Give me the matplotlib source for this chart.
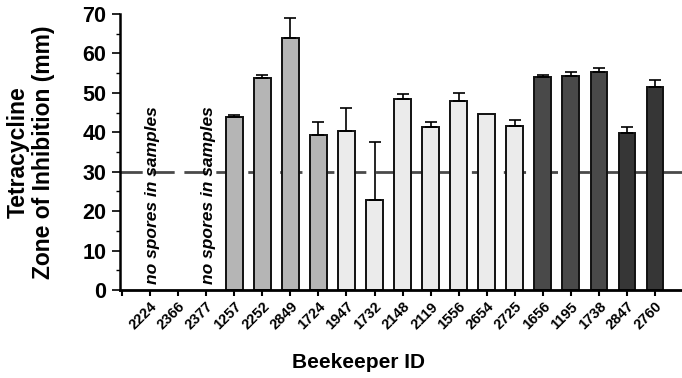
import matplotlib
matplotlib.use('Agg')
import matplotlib.pyplot as plt
from matplotlib.ticker import MultipleLocator

plt.rcParams['font.family'] = 'Liberation Sans'
plt.rcParams['font.weight'] = 'bold'

# beekeeper IDs in plotted order; the first three had no spores
beekeeper_ids = ['2224', '2366', '2377', '1257', '2252', '2849', '1724',
                 '1947', '1732', '2148', '2119', '1556', '2654', '2725',
                 '1656', '1195', '1738', '2847', '2760']
zone_mm = [None, None, None, 43.8, 53.8, 63.8, 39.4,
           40.4, 22.9, 48.4, 41.4, 48.0, 44.6, 41.7,
           54.0, 54.3, 55.3, 39.9, 51.6]
zone_err = [0, 0, 0, 0.6, 0.8, 5.3, 3.3,
            5.8, 14.5, 1.4, 1.3, 2.0, 0.0, 1.5,
            0.6, 0.9, 1.1, 1.5, 1.6]
group = [0, 0, 0, 1, 1, 1, 1,
         2, 2, 2, 2, 2, 2, 2,
         3, 3, 3, 4, 4]
group_colors = {1: '#b5b5b5', 2: '#ebebeb', 3: '#494949', 4: '#363636'}
no_spores = [0, 2]
threshold = 30

fig = plt.figure(figsize=(6.82, 3.78), dpi=100)
ax = fig.add_axes([0.176, 0.233, 0.824, 0.730])

xs = [i for i, v in enumerate(zone_mm) if v is not None]
heights = [zone_mm[i] for i in xs]
errs = [zone_err[i] for i in xs]
colors = [group_colors[group[i]] for i in xs]

ax.axhline(threshold, color='#4a4a4a', lw=2, dashes=(8, 3.5), zorder=1)
ax.bar(xs, heights, width=0.6, color=colors, edgecolor='#111111',
       linewidth=1.4, zorder=2)
for x, h, e in zip(xs, heights, errs):
    if e > 0:
        ax.errorbar(x, h, yerr=[[0], [e]], fmt='none', ecolor='black',
                    elinewidth=1.2, capsize=4.5, capthick=1.2, zorder=3)

for i in no_spores:
    ax.text(i + 0.1, 1.5, 'no spores in samples', rotation=90,
            ha='center', va='bottom', fontsize=12.5, fontstyle='italic',
            fontweight='bold', zorder=4)

ax.set_xlim(-1.07, 18.96)
ax.set_ylim(0, 70)
ax.set_xticks(range(-1, len(beekeeper_ids)))
ax.set_xticklabels([''] + beekeeper_ids, rotation=45, ha='right',
                   rotation_mode='anchor', fontsize=10.5, fontweight='bold')
ax.yaxis.set_major_locator(MultipleLocator(10))
ax.yaxis.set_minor_locator(MultipleLocator(5))
ax.tick_params(axis='y', which='major', labelsize=15.5, length=6, width=1.2, pad=4)
ax.tick_params(axis='y', which='minor', length=3, width=1)
ax.tick_params(axis='x', length=4, width=1.5, pad=3)
for lab in ax.get_yticklabels():
    lab.set_fontweight('bold')

for side in ['top', 'right']:
    ax.spines[side].set_visible(False)
ax.spines['left'].set_linewidth(1.8)
ax.spines['bottom'].set_linewidth(2)

fig.text(0.027, 0.598, 'Tetracycline', rotation=90, ha='center', va='center',
         fontsize=16.5, fontweight='bold')
fig.text(0.064, 0.598, 'Zone of Inhibition (mm)', rotation=90, ha='center',
         va='center', fontsize=16.5, fontweight='bold')
fig.text(0.526, 0.040, 'Beekeeper ID', ha='center', va='center',
         fontsize=15, fontweight='bold')

plt.savefig('out.png', dpi=100)
